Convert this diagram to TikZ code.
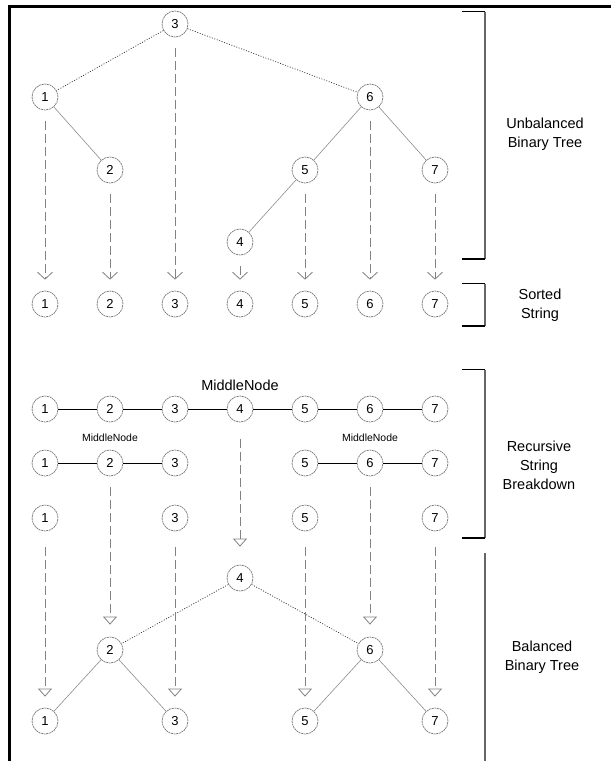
\documentclass[tikz,border=0pt]{standalone}
\usepackage{fontspec}
\setmainfont{Liberation Sans}
\usetikzlibrary{arrows.meta}
\definecolor{cgray}{RGB}{120,120,120}
\definecolor{egray}{RGB}{140,140,140}
\definecolor{agray}{RGB}{130,130,130}
\tikzset{
  cnode/.style={circle, draw=cgray, line width=0.7pt, dash pattern=on 2pt off 0.7pt, minimum size=26pt, inner sep=0pt, font=\fontsize{13}{13}\selectfont},
  tedge/.style={draw=egray, line width=0.6pt},
  dotedge/.style={draw=black!80, line width=0.7pt, dash pattern=on 1pt off 1.6pt},
  strline/.style={draw=black, line width=0.8pt},
  downV/.style={draw=agray, line width=0.8pt, dash pattern=on 9pt off 4pt, -{Straight Barb[length=7pt,width=15pt,line width=0.8pt]}},
  downT/.style={draw=agray, line width=0.8pt, dash pattern=on 9pt off 4pt, -{Triangle[open,length=8pt,width=14pt,line width=0.8pt]}},
  sidelabel/.style={align=center, font=\fontsize{14.5}{19}\selectfont},
  brk/.style={draw=gray!80!black, line width=1.2pt},
  tick/.style={draw=black, line width=1.2pt}
}
\begin{document}
\begin{tikzpicture}[x=1pt,y=-1pt]
\useasboundingbox (0,0) rectangle (611,761);
% frame
\draw[line width=3pt] (9.5,761) -- (9.5,6.5) -- (611,6.5);

% unbalanced tree
\node[cnode] (u3) at (175,24) {3};
\node[cnode] (u1) at (45,97) {1};
\node[cnode] (u6) at (370,97) {6};
\node[cnode] (u2) at (110,170) {2};
\node[cnode] (u5) at (305,170) {5};
\node[cnode] (u7) at (435,170) {7};
\node[cnode] (u4) at (240,242) {4};
\draw[dotedge] (u3) -- (u1);
\draw[dotedge] (u3) -- (u6);
\draw[tedge] (u1) -- (u2);
\draw[tedge] (u6) -- (u5);
\draw[tedge] (u6) -- (u7);
\draw[tedge] (u5) -- (u4);

% sorted string
\foreach \i/\x in {1/45,2/110,3/175,4/240,5/305,6/370,7/435}
  \node[cnode] (s\i) at (\x,304) {\i};
\foreach \i in {1,...,7}
  \draw[downV] ([yshift=-11pt]u\i.south) -- ([yshift=11pt]s\i.north);

% recursive breakdown
\foreach \i/\x in {1/45,2/110,3/175,4/240,5/305,6/370,7/435}
  \node[cnode] (r\i) at (\x,409) {\i};
\foreach \i [count=\j from 2] in {1,...,6}
  \draw[strline] (r\i) -- (r\j);
\node[font=\fontsize{14.5}{14.5}\selectfont] (m1) at (240,385) {MiddleNode};

\foreach \i/\x in {1/45,2/110,3/175,5/305,6/370,7/435}
  \node[cnode] (a\i) at (\x,463) {\i};
\draw[strline] (a1) -- (a2);
\draw[strline] (a2) -- (a3);
\draw[strline] (a5) -- (a6);
\draw[strline] (a6) -- (a7);
\node[font=\fontsize{11}{11}\selectfont, scale=0.95] (m2) at (110,438) {MiddleNode};
\node[font=\fontsize{11}{11}\selectfont, scale=0.95] (m3) at (370,438) {MiddleNode};

\foreach \i/\x in {1/45,3/175,5/305,7/435}
  \node[cnode] (b\i) at (\x,518) {\i};

% balanced tree
\node[cnode] (c4) at (240,578) {4};
\node[cnode] (c2) at (110,650) {2};
\node[cnode] (c6) at (370,650) {6};
\foreach \i/\x in {1/45,3/175,5/305,7/435}
  \node[cnode] (c\i) at (\x,721) {\i};
\draw[dotedge] (c4) -- (c2);
\draw[dotedge] (c4) -- (c6);
\draw[tedge] (c2) -- (c1);
\draw[tedge] (c2) -- (c3);
\draw[tedge] (c6) -- (c5);
\draw[tedge] (c6) -- (c7);

\draw[downT] ([yshift=-17pt]r4.south) -- ([yshift=18pt]c4.north);
\draw[downT] ([yshift=-11pt]a2.south) -- ([yshift=12pt]c2.north);
\draw[downT] ([yshift=-11pt]a6.south) -- ([yshift=12pt]c6.north);
\foreach \i in {1,3,5,7}
  \draw[downT] ([yshift=-16pt]b\i.south) -- ([yshift=11pt]c\i.north);

% brackets
\coordinate (k1a) at (462,11.5); \coordinate (k1b) at (485,11.5);
\coordinate (k1c) at (485,259); \coordinate (k1d) at (462,259);
\draw[brk] (k1b) -- (k1c);
\draw[tick] (k1a) -- (k1b); \draw[tick] (k1c) -- (k1d);
\node[sidelabel] (l1) at (545,134) {Unbalanced\\Binary Tree};

\coordinate (k2a) at (462,283.5); \coordinate (k2b) at (485,283.5);
\coordinate (k2c) at (485,326); \coordinate (k2d) at (462,326);
\draw[brk] (k2b) -- (k2c);
\draw[tick] (k2a) -- (k2b); \draw[tick] (k2c) -- (k2d);
\node[sidelabel] (l2) at (540,305) {Sorted\\String};

\coordinate (k3a) at (462,369.5); \coordinate (k3b) at (485,369.5);
\coordinate (k3c) at (485,538); \coordinate (k3d) at (462,538);
\draw[brk] (k3b) -- (k3c);
\draw[tick] (k3a) -- (k3b); \draw[tick] (k3c) -- (k3d);
\node[sidelabel] (l3) at (539,465) {Recursive\\String\\Breakdown};

\coordinate (k4a) at (485,553); \coordinate (k4b) at (485,761);
\draw[brk] (k4a) -- (k4b);
\node[sidelabel] (l4) at (542,657) {Balanced\\Binary Tree};
\end{tikzpicture}
\end{document}
